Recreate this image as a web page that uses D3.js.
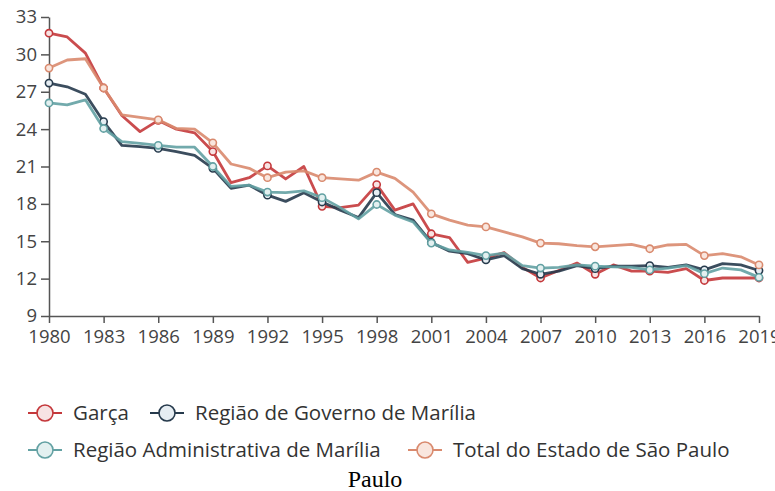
<!DOCTYPE html>
<html>
<head>
<meta charset="utf-8">
<script src="https://cdn.jsdelivr.net/npm/d3@7"></script>
<style>
    body { margin: 0; background: #fff; }
    svg { display: block; }
    .axis text { font-family: "Open Sans", sans-serif; font-size: 18.5px; fill: #444; }
    .axis path, .axis line { stroke: #555; stroke-width: 1.5; }
    .legend text { font-family: "Open Sans", sans-serif; font-size: 20.5px; fill: #333; }
</style>
</head>
<body>
<div id="chart"></div>
<script>

    // Data Model
    var years = d3.range(1980, 2020);

    var garca = [31.7, 31.4, 30.1, 27.3, 25.1, 23.8, 24.7, 24.0, 23.7, 22.2,
        19.7, 20.1, 21.05, 20.0, 21.0, 17.8, 17.7, 17.9, 19.55, 17.5,
        18.0, 15.6, 15.3, 13.3, 13.65, 14.1, 12.9, 12.05, 12.65, 13.25,
        12.35, 13.1, 12.6, 12.6, 12.5, 12.8, 11.85, 12.05, 12.05, 12.05];

    var governo = [27.7, 27.4, 26.8, 24.6, 22.7, 22.6, 22.45, 22.2, 21.9, 20.85,
        19.25, 19.5, 18.7, 18.2, 18.9, 18.15, 17.5, 16.9, 18.9, 17.15,
        16.7, 14.9, 14.2, 14.0, 13.5, 13.85, 12.8, 12.35, 12.6, 13.05,
        12.8, 13.0, 13.0, 13.05, 12.9, 13.1, 12.7, 13.2, 13.1, 12.65];

    var administrativa = [26.1, 25.95, 26.35, 24.05, 23.0, 22.85, 22.7, 22.55, 22.55, 21.0,
        19.4, 19.5, 18.95, 18.9, 19.05, 18.5, 17.7, 16.8, 17.95, 17.1,
        16.55, 14.85, 14.3, 14.1, 13.85, 14.05, 13.05, 12.85, 12.9, 13.1,
        13.0, 12.95, 12.9, 12.7, 12.85, 13.05, 12.4, 12.85, 12.7, 12.1];

    var estado = [28.9, 29.55, 29.65, 27.3, 25.15, 24.95, 24.75, 24.05, 24.0, 22.9,
        21.2, 20.85, 20.1, 20.55, 20.65, 20.1, 20.0, 19.9, 20.55, 20.05,
        18.95, 17.2, 16.7, 16.3, 16.15, 15.75, 15.35, 14.85, 14.8, 14.65,
        14.55, 14.65, 14.75, 14.4, 14.7, 14.75, 13.85, 14.0, 13.75, 13.1];

    var seriesNames = ["Garça", "Região de Governo de Marília",
        "Região Administrativa de Marília", "Total do Estado de São Paulo"];
    var seriesValues = [garca, governo, administrativa, estado];
    var seriesColors = ["#c4383b", "#263a4c", "#63a1a3", "#d98a6e"];
    var seriesFills = ["#f7e3e3", "#e6edf2", "#e3f0f0", "#f9e6de"];

    var yTicks = d3.range(9, 34, 3);
    var xTicks = d3.range(1980, 2020, 3);

    // Dimensions
    var width = 775;
    var height = 491;
    var margin = {top: 17, left: 49, right: 16, bottom: 175};

    var svg = d3.select("#chart").append("svg")
        .attr("width", width)
        .attr("height", height);

    //Axis
    var x = d3.scaleLinear()
        .domain([1980, 2019])
        .range([margin.left, width - margin.right]);

    var y = d3.scaleLinear()
        .domain([9, 33])
        .range([height - margin.bottom, margin.top]);

    svg.append("g")
        .attr("class", "axis x-axis")
        .attr("transform", "translate(0," + y(9) + ")")
        .call(d3.axisBottom(x)
            .tickValues(xTicks)
            .tickFormat(d3.format("d"))
            .tickSize(7)
            .tickSizeOuter(0)
            .tickPadding(7));

    svg.append("g")
        .attr("class", "axis y-axis")
        .attr("transform", "translate(" + x(1980) + ",0)")
        .call(d3.axisLeft(y)
            .tickValues(yTicks)
            .tickSize(8)
            .tickSizeOuter(0)
            .tickPadding(4));

    // Lines
    var line = d3.line()
        .x(function(d, i) { return x(years[i]); })
        .y(function(d) { return y(d); });

    var seriesGroup = svg.selectAll(".series")
        .data(seriesValues)
        .enter().append("g")
        .attr("class", "series");

    seriesGroup.append("path")
        .attr("d", line)
        .attr("fill", "none")
        .attr("stroke", function(d, i) { return seriesColors[i]; })
        .attr("stroke-width", 2.8)
        .attr("stroke-linejoin", "round")
        .attr("stroke-opacity", 0.9);

    seriesGroup.each(function(values, s) {
        d3.select(this).selectAll("circle")
            .data(values.filter(function(d, i) { return (years[i] - 1980) % 3 === 0; }))
            .enter().append("circle")
            .attr("cx", function(d, i) { return x(1980 + i * 3); })
            .attr("cy", function(d) { return y(d); })
            .attr("r", 3.6)
            .attr("fill", seriesFills[s])
            .attr("stroke", seriesColors[s])
            .attr("stroke-width", 1.6);
    });

    // Legend
    var legendPos = [[28, 413], [150, 413], [28, 450], [408, 450]];

    var legend = svg.selectAll(".legend")
        .data(seriesNames)
        .enter().append("g")
        .attr("class", "legend")
        .attr("transform", function(d, i) {
            return "translate(" + legendPos[i][0] + "," + legendPos[i][1] + ")";
        });

    legend.append("line")
        .attr("x1", 0)
        .attr("x2", 34)
        .attr("stroke", function(d, i) { return seriesColors[i]; })
        .attr("stroke-width", 2);

    legend.append("circle")
        .attr("cx", 17)
        .attr("r", 8)
        .attr("fill", function(d, i) { return seriesFills[i]; })
        .attr("stroke", function(d, i) { return seriesColors[i]; })
        .attr("stroke-width", 1.6);

    legend.append("text")
        .attr("x", 45)
        .attr("dy", "0.35em")
        .text(function(d) { return d; });

    svg.append("text")
        .attr("x", 375)
        .attr("y", 487)
        .attr("text-anchor", "middle")
        .style("font-family", "'Liberation Serif', 'Times New Roman', serif")
        .style("font-size", "24px")
        .style("fill", "#000")
        .text("Paulo");

</script>
</body>
</html>
